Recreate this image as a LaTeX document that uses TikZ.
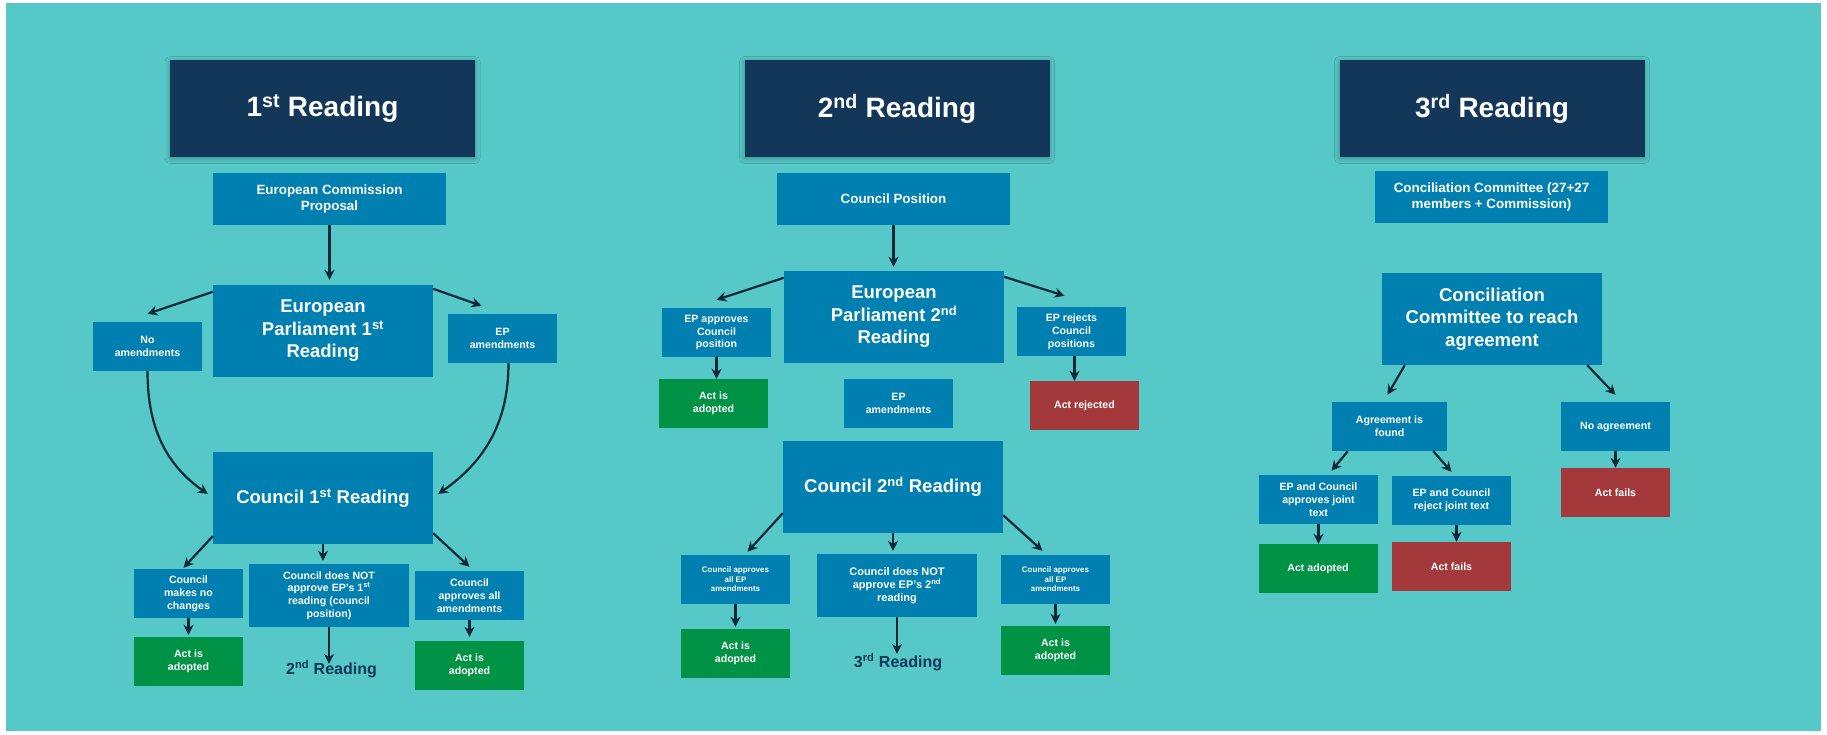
\documentclass[tikz,border=0pt]{standalone}
\usepackage{fontspec}
\setmainfont{Liberation Sans}
\usetikzlibrary{arrows.meta,shadows.blur}

\definecolor{pagebg}{RGB}{86,200,199}
\definecolor{navy}{RGB}{19,55,88}
\definecolor{boxblue}{RGB}{0,128,177}
\definecolor{okgreen}{RGB}{0,146,69}
\definecolor{badred}{RGB}{163,57,58}
\definecolor{arrowink}{RGB}{16,40,60}

\begin{document}
\begin{tikzpicture}[x=1pt,y=-1pt,>={Stealth[length=10pt,width=10pt]}]
    % styles
    \tikzset{
        box/.style={rectangle,inner sep=0pt,align=center,text=white},
        reading/.style={box,fill=navy,minimum width=305pt,minimum height=97pt,
            font=\fontsize{28}{32}\selectfont\bfseries,
            blur shadow={shadow xshift=0pt,shadow yshift=-1.5pt,shadow blur radius=5pt,shadow opacity=30,shadow scale=1}},
        source/.style={box,fill=boxblue,minimum width=233pt,minimum height=52pt,
            font=\fontsize{13.4}{16}\selectfont\bfseries},
        stage/.style={box,fill=boxblue,minimum width=220pt,minimum height=92pt,
            font=\fontsize{18.5}{22.5}\selectfont\bfseries},
        choice/.style={box,fill=boxblue,minimum width=109pt,minimum height=49pt,
            font=\fontsize{10.6}{12.8}\selectfont\bfseries},
        smalltext/.style={font=\fontsize{8}{9.5}\selectfont\bfseries},
        widebox/.style={minimum width=160pt,minimum height=63pt},
        adopted/.style={choice,fill=okgreen},
        failed/.style={choice,fill=badred},
        nextlabel/.style={inner sep=0pt,text=navy,font=\fontsize{16}{19}\selectfont\bfseries},
        link/.style={->,draw=arrowink,line width=2.2pt}
    }

    % page
    \fill[white] (0,0) rectangle (1827,734);
    \fill[pagebg] (6,3) rectangle (1821,731);

    % 1st reading
    \node[reading] (T1)    at (322.5,108.5) {1\textsuperscript{st} Reading};
    \node[source]  (ECP)   at (329.5,199)   {European Commission\\Proposal};
    \node[stage]   (EP1)   at (323,331)     {European\\Parliament 1\textsuperscript{st}\\Reading};
    \node[choice]  (NoA)   at (147.5,346.5) {No\\amendments};
    \node[choice]  (EPA1)  at (502.5,338.5) {EP\\amendments};
    \node[stage]   (C1)    at (323,498)     {Council 1\textsuperscript{st} Reading};
    \node[choice]  (CMNC)  at (188.5,593.5) {Council\\makes no\\changes};
    \node[choice,widebox] (CDNA1) at (329,595.5) {Council does NOT\\approve EP's 1\textsuperscript{st}\\reading (council\\position)};
    \node[choice]  (CAAA)  at (469.5,595.5) {Council\\approves all\\amendments};
    \node[adopted] (G1a)   at (188.5,661.5) {Act is\\adopted};
    \node[nextlabel] (R2)  at (331.5,669)   {2\textsuperscript{nd} Reading};
    \node[adopted] (G1b)   at (469.5,665.5) {Act is\\adopted};

    \draw[link,shorten >=5pt] (ECP.south) -- (ECP.south |- EP1.north);
    \draw[link] ([yshift=-7pt]EP1.north west) -- ([yshift=8pt]NoA.north);
    \draw[link] ([yshift=-4pt]EP1.north east) -- ([xshift=-21pt,yshift=8pt]EPA1.north);
    \draw[link] (NoA.south) to[out=-90,in=145] ([xshift=-5pt,yshift=4pt]C1.west);
    \draw[link] ([xshift=6pt]EPA1.south) to[out=-90,in=35] ([xshift=5pt,yshift=4pt]C1.east);
    \draw[link] ([yshift=8pt]C1.south west) -- ([xshift=-5pt,yshift=1pt]CMNC.north);
    \draw[link,shorten >=3pt] (C1.south) -- (C1.south |- CDNA1.north);
    \draw[link] ([yshift=11pt]C1.south east) -- ([yshift=4pt]CAAA.north);
    \draw[link,shorten >=2pt] (CMNC.south) -- (G1a.north);
    \draw[link,shorten >=-4pt] (CDNA1.south) -- (CDNA1.south |- R2.north);
    \draw[link,shorten >=4pt] (CAAA.south) -- (G1b.north);

    % 2nd reading
    \node[reading] (T2)    at (897,108.5)   {2\textsuperscript{nd} Reading};
    \node[source]  (CP)    at (893.5,199)   {Council Position};
    \node[stage]   (EP2)   at (894,317)     {European\\Parliament 2\textsuperscript{nd}\\Reading};
    \node[choice]  (EPAp)  at (716.5,332.5) {EP approves\\Council\\position};
    \node[choice]  (EPRj)  at (1071.5,331.5) {EP rejects\\Council\\positions};
    \node[adopted] (GA2)   at (713.5,403.5) {Act is\\adopted};
    \node[choice]  (EPA2)  at (898.5,403.5) {EP\\amendments};
    \node[failed]  (RJ2)   at (1084.5,405.5) {Act rejected};
    \node[stage]   (C2)    at (893,487)     {Council 2\textsuperscript{nd} Reading};
    \node[choice,smalltext] (CAE1) at (735.5,579.5) {Council approves\\all EP\\amendments};
    \node[choice,widebox,font=\fontsize{11}{13}\selectfont\bfseries] (CDNA2) at (897,585.5) {Council does NOT\\approve EP's 2\textsuperscript{nd}\\reading};
    \node[choice,smalltext] (CAE2) at (1055.5,579.5) {Council approves\\all EP\\amendments};
    \node[adopted] (GA2b)  at (735.5,653.5) {Act is\\adopted};
    \node[nextlabel] (R3)  at (898,662)     {3\textsuperscript{rd} Reading};
    \node[adopted] (GA2c)  at (1055.5,650.5) {Act is\\adopted};

    \draw[link,shorten >=4pt] (CP.south) -- (CP.south |- EP2.north);
    \draw[link] ([yshift=-7pt]EP2.north west) -- ([yshift=8pt]EPAp.north);
    \draw[link] ([yshift=-6pt]EP2.north east) -- ([xshift=-7pt,yshift=11pt]EPRj.north);
    \draw[link] (EPAp.south) -- (EPAp.south |- GA2.north);
    \draw[link] ([xshift=3pt]EPRj.south) -- ([xshift=3pt]EPRj.south |- RJ2.north);
    \draw[link] ([yshift=20pt]C2.south west) -- ([xshift=12pt,yshift=3pt]CAE1.north);
    \draw[link,shorten >=3pt] (C2.south) -- (C2.south |- CDNA2.north);
    \draw[link] ([yshift=18pt]C2.south east) -- ([xshift=-13pt,yshift=4pt]CAE2.north);
    \draw[link,shorten >=2pt] (CAE1.south) -- (GA2b.north);
    \draw[link,shorten >=-1pt] (CDNA2.south) -- (CDNA2.south |- R3.north);
    \draw[link,shorten >=2pt] (CAE2.south) -- (GA2c.north);

    % 3rd reading
    \node[reading] (T3)    at (1492,108.5)  {3\textsuperscript{rd} Reading};
    \node[source]  (CCs)   at (1491.5,197)  {Conciliation Committee (27+27\\members + Commission)};
    \node[stage]   (CCb)   at (1492,319)    {Conciliation\\Committee to reach\\agreement};
    \node[choice,minimum width=115pt] (AGF) at (1389.5,426.5) {Agreement is\\found};
    \node[choice]  (NAG)   at (1615.5,426.5) {No agreement};
    \node[choice,minimum width=119pt] (EPCA) at (1318.5,499.5) {EP and Council\\approves joint\\text};
    \node[choice,minimum width=119pt] (EPCR) at (1451.5,500.5) {EP and Council\\reject joint text};
    \node[adopted,minimum width=119pt] (AAD) at (1318,568.5) {Act adopted};
    \node[failed,minimum width=119pt]  (AF1) at (1451.5,566.5) {Act fails};
    \node[failed]  (AF2)   at (1615.5,492.5) {Act fails};

    \draw[link] ([xshift=23pt]CCb.south west) -- ([xshift=-2pt,yshift=7pt]AGF.north);
    \draw[link] ([xshift=-15pt]CCb.south east) -- ([yshift=7pt]NAG.north);
    \draw[link] ([xshift=16pt]AGF.south west) -- ([xshift=13pt,yshift=4pt]EPCA.north);
    \draw[link] ([xshift=-14pt]AGF.south east) -- ([yshift=4pt]EPCR.north);
    \draw[link] (NAG.south) -- (AF2.north);
    \draw[link] (EPCA.south) -- (EPCA.south |- AAD.north);
    \draw[link] ([xshift=5pt]EPCR.south) -- ([xshift=5pt]EPCR.south |- AF1.north);
\end{tikzpicture}
\end{document}
